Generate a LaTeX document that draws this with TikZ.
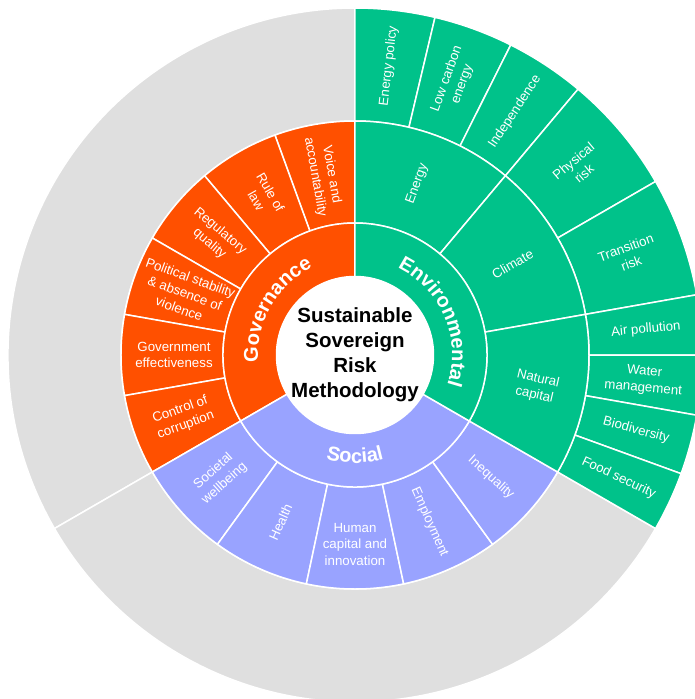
\documentclass[tikz,border=0pt]{standalone}
\usepackage{fontspec}
\setmainfont{Liberation Sans}
\usetikzlibrary{decorations.text}
\definecolor{gov}{HTML}{FF5000}
\definecolor{env}{HTML}{00C28A}
\definecolor{soc}{HTML}{99A3FF}
\definecolor{bgray}{HTML}{DFDFDF}
\newcommand{\ringcell}[5]{%
  \filldraw[cellsep, fill=#1] (#2:#4pt) arc[start angle=#2, end angle=#3, radius=#4pt]
    -- (#3:#5pt) arc[start angle=#3, end angle=#2, radius=#5pt] -- cycle;}
\begin{document}
\begin{tikzpicture}[
  cellsep/.style={draw=white, line width=1.5pt, line join=round},
  leaf/.style={text=white, align=center, inner sep=0pt, font=\fontsize{13.3}{16.5}\selectfont},
  catlabel/.style={decorate, decoration={text along path, text align=center, text color=white,
      text={|\bfseries\fontsize{20}{20}\selectfont|#1}}},
]
\useasboundingbox (-355pt,-344pt) rectangle (340pt,355pt);
\clip (-355pt,-344pt) rectangle (340pt,355pt);
% outer ring
\ringcell{bgray}{90}{210}{234}{347}
\ringcell{bgray}{210}{330}{234}{347}
\foreach \a/\b in {90/76.667, 76.667/63.333, 63.333/50, 50/30, 30/10, 10/0, 0/-10, -10/-20, -20/-30}
  {\ringcell{env}{\a}{\b}{234}{347}}
% middle ring
\foreach \a/\b in {90/110, 110/130, 130/150, 150/170, 170/190, 190/210}
  {\ringcell{gov}{\a}{\b}{132}{234}}
\foreach \a/\b in {210/234, 234/258, 258/282, 282/306, 306/330}
  {\ringcell{soc}{\a}{\b}{132}{234}}
\foreach \a/\b in {90/50, 50/10, 10/-30}
  {\ringcell{env}{\a}{\b}{132}{234}}
% inner ring
\ringcell{gov}{90}{210}{78}{132}
\ringcell{soc}{210}{330}{78}{132}
\ringcell{env}{90}{-30}{78}{132}
% centre
\node[circle, fill=white, minimum size=156pt, inner sep=0pt, align=center,
      font=\bfseries\fontsize{20.5}{25}\selectfont] (centre) at (0pt,0pt)
      {Sustainable\\Sovereign\\Risk\\Methodology};
% category labels
\path[catlabel=Governance] (210:97pt) arc[start angle=210, end angle=90, radius=97pt];
\path[catlabel=Environmental] (83:97pt) arc[start angle=83, end angle=-37, radius=97pt];
\path[catlabel=Social] (210:108pt) arc[start angle=210, end angle=330, radius=108pt];
% governance leaves
\node[leaf, rotate=-80] (voice) at (100:182pt) {Voice and\\accountability};
\node[leaf, rotate=-60] (rule) at (120:183pt) {Rule of\\law};
\node[leaf, rotate=-40] (regq) at (140:183pt) {Regulatory\\quality};
\node[leaf, rotate=-20] (polstab) at (160:181pt) {Political stability\\\& absence of\\violence};
\node[leaf] (goveff) at (180:181pt) {Government\\effectiveness};
\node[leaf, rotate=20] (corrupt) at (200:183pt) {Control of\\corruption};
% social leaves
\node[leaf, rotate=42] (societal) at (222:183pt) {Societal\\wellbeing};
\node[leaf, rotate=66] (health) at (246:183pt) {Health};
\node[leaf] (human) at (270:189pt) {Human\\capital and\\innovation};
\node[leaf, rotate=-66] (employ) at (294:183pt) {Employment};
\node[leaf, rotate=-42] (inequal) at (318:183pt) {Inequality};
% environmental middle
\node[leaf, rotate=70] (energy) at (70:182pt) {Energy};
\node[leaf, rotate=30] (climate) at (30:182pt) {Climate};
\node[leaf, rotate=-13] (natcap) at (350:184pt) {Natural\\capital};
% environmental outer
\node[leaf, rotate=83.33] (enpol) at (83.33:291pt) {Energy policy};
\node[leaf, rotate=70] (lowc) at (70:291pt) {Low carbon\\energy};
\node[leaf, rotate=56.67] (indep) at (56.67:291pt) {Independence};
\node[leaf, rotate=40] (phys) at (40:292pt) {Physical\\risk};
\node[leaf, rotate=20] (trans) at (20:291pt) {Transition\\risk};
\node[leaf, rotate=5] (air) at (5:292pt) {Air pollution};
\node[leaf, rotate=-5] (water) at (-5:290pt) {Water\\management};
\node[leaf, rotate=-15] (bio) at (-15:291pt) {Biodiversity};
\node[leaf, rotate=-25] (food) at (-25:291pt) {Food security};
\end{tikzpicture}
\end{document}
